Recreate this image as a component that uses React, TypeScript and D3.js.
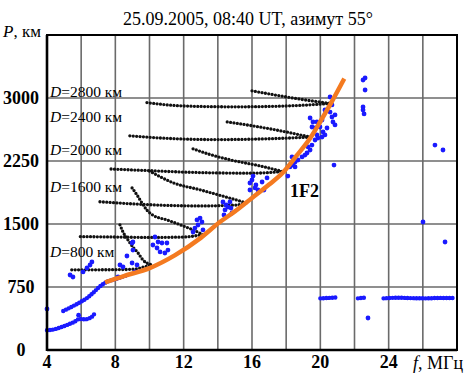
import * as d3 from "d3";

const FONT = "Liberation Serif";

// axis ticks
const xTickLabels = [4, 8, 12, 16, 20, 24];
const yTickLabels = [0, 750, 1500, 2250, 3000];

// orange 1F2 MUF curve (f MHz, P km)
const muf = [
  [7.4, 805], [8.5, 880], [10.0, 975], [11.5, 1130], [13.0, 1335], [14.1, 1520],
  [15.0, 1650], [16.0, 1810], [17.0, 1970], [17.8, 2110], [18.6, 2310],
  [19.4, 2520], [20.0, 2720], [20.6, 2930], [21.4, 3230],
];

// modelled distance-frequency curves, lower and upper branches per D
const dLabels = [
  { text: "2800", P: 3012 },
  { text: "2400", P: 2714 },
  { text: "2000", P: 2321 },
  { text: "1600", P: 1881 },
  { text: "800", P: 1107 },
];
const lower800 = [[5.45, 955], [7, 955], [8.5, 958], [9.2, 965], [9.7, 990], [10.1, 1015]];
const upper800 = [[8.27, 1490], [8.45, 1405], [8.74, 1310], [9.03, 1226], [9.33, 1155], [9.62, 1071], [10.1, 1015]];
const lower1200 = [[5.95, 1350], [8, 1345], [10, 1340], [12, 1345], [13.13, 1375]];
const upper1200 = [[8.98, 1930], [9.27, 1845], [9.56, 1750], [9.85, 1665], [10.2, 1605], [11.0, 1550], [11.8, 1490], [12.55, 1430], [13.13, 1375]];
const lower1600 = [[7.1, 1765], [9, 1740], [11, 1722], [13, 1715], [15, 1725], [15.7, 1750]];
const upper1600 = [[10.0, 2130], [11.4, 1990], [13.0, 1905], [14.5, 1820], [15.7, 1750]];
const lower2000 = [[7.75, 2155], [10, 2135], [13, 2112], [16, 2105], [17.8, 2125]];
const upper2000 = [[12.55, 2395], [13.5, 2330], [14.7, 2265], [16.5, 2190], [17.8, 2125]];
const lower2400 = [[8.85, 2550], [11, 2520], [14, 2505], [17, 2515], [19.4, 2535]];
const upper2400 = [[14.55, 2715], [16, 2670], [17.4, 2620], [19.4, 2535]];
const lower2800 = [[9.85, 2945], [12, 2905], [15, 2895], [18, 2905], [20.6, 2935]];
const upper2800 = [[16.0, 3085], [17.35, 3036], [18.7, 2990], [20.6, 2935]];
const modelLines = [lower800, upper800, lower1200, upper1200, lower1600, upper1600,
  lower2000, upper2000, lower2400, upper2400, lower2800, upper2800];

// measured traces (continuous)
const traceLow = [[4.0, 235], [4.4, 245], [4.8, 270], [5.2, 300], [5.6, 335], [5.9, 370], [6.2, 365], [6.5, 380], [6.7, 410], [6.85, 455]];
const traceMid = [[4.95, 465], [5.45, 515], [5.95, 570], [6.35, 620], [6.7, 680], [7.0, 740], [7.4, 800], [8.1, 850], [8.7, 890]];
const trace620a = [[20.0, 615], [20.5, 620], [20.9, 625]];
const trace620b = [[22.2, 615], [22.45, 620], [22.7, 625]];
const trace620c = [[23.7, 615], [24.5, 622], [25.3, 618], [26.2, 615], [27.0, 620], [27.9, 618]];
const traces = [traceLow, traceMid, trace620a, trace620b, trace620c];

// measured points (scattered)
const scatter = [
  [4.0, 488], [5.85, 415],
  [5.35, 893], [5.52, 869], [6.11, 929], [6.34, 976], [6.52, 1012], [6.63, 1048],
  [8.27, 1012], [8.45, 988], [8.98, 1036], [9.03, 1190], [8.98, 1274], [9.03, 1286],
  [9.27, 1012], [9.15, 929], [8.68, 1119], [8.16, 869],
  [10.32, 1345], [10.5, 1286], [10.73, 1274], [11.02, 1274], [10.62, 1167], [11.08, 1190],
  [10.9, 1155], [10.2, 1250], [10.44, 1214],
  [12.78, 1548], [12.96, 1571], [13.07, 1524], [12.84, 1488], [12.55, 1405], [13.13, 1429], [12.66, 1452],
  [14.3, 1762], [14.48, 1726], [14.71, 1762], [14.42, 1667], [14.6, 1702], [14.83, 1631], [14.36, 1607], [14.77, 1690],
  [15.88, 1988], [16.0, 2024], [16.23, 1964], [16.59, 2000], [16.35, 1905], [15.88, 1905],
  [16.88, 2048], [16.06, 2071], [16.18, 1929], [16.7, 1905],
  [20.57, 3012], [20.68, 2917], [20.27, 2857], [20.57, 2833], [20.68, 2774], [20.86, 2798],
  [20.74, 2714], [20.86, 2679], [19.4, 2762], [19.57, 2714], [19.8, 2714], [19.51, 2655],
  [19.69, 2643], [19.98, 2655], [20.1, 2738], [20.16, 2595], [20.27, 2560], [20.1, 2536],
  [20.39, 2643], [19.8, 2560], [19.86, 2524], [19.69, 2500], [19.51, 2440], [19.28, 2417],
  [19.4, 2381], [19.22, 2345], [19.1, 2321], [18.93, 2298], [18.69, 2262], [18.52, 2238],
  [18.34, 2298], [18.4, 2202], [18.22, 2179], [18.52, 2179], [20.8, 2202], [18.1, 2071],
  [22.5, 3214], [22.62, 3238], [22.62, 3095], [22.5, 2893], [22.5, 2857], [22.56, 2810],
  [26.71, 2440], [27.18, 2381], [26.01, 1524], [27.3, 1286], [22.79, 381],
];

export default function App() {
  const width = 472;
  const height = 374;
  const x = d3.scaleLinear().domain([4, 28]).range([47, 457]);
  const y = d3.scaleLinear().domain([0, 3750]).range([350, 35]);
  const line = d3
    .line<number[]>()
    .x((d) => x(d[0]))
    .y((d) => y(d[1]))
    .curve(d3.curveMonotoneX);

  const gridX = x.ticks(12).filter((v) => v > 4 && v < 28);
  const gridY = yTickLabels.filter((v) => v > 0);

  return (
    <svg
      width={width}
      height={height}
      style={{ position: "absolute", left: 0, top: 0, background: "#fff" }}
    >
      {/* grid */}
      {gridX.map((v) => (
        <line key={"gx" + v} x1={x(v)} x2={x(v)} y1={y(3750)} y2={y(0)} stroke="#6a6a6a" strokeWidth={1.6} />
      ))}
      {gridY.map((v) => (
        <line key={"gy" + v} x1={x(4)} x2={x(28)} y1={y(v)} y2={y(v)} stroke="#6a6a6a" strokeWidth={1.6} />
      ))}

      {/* modelled curves as dotted lines */}
      {modelLines.map((pts, i) => (
        <path
          key={"m" + i}
          d={line(pts) || ""}
          fill="none"
          stroke="#111"
          strokeWidth={3.3}
          strokeLinecap="round"
          strokeDasharray="0 3.4"
        />
      ))}

      {/* measured */}
      {traces.map((pts, i) => (
        <path
          key={"t" + i}
          d={line(pts) || ""}
          fill="none"
          stroke="#1a1aff"
          strokeWidth={4.4}
          strokeLinecap="round"
          strokeDasharray="0 3"
        />
      ))}
      {scatter.map((d, i) => (
        <circle key={"s" + i} cx={x(d[0])} cy={y(d[1])} r={2.4} fill="#1a1aff" />
      ))}

      {/* 1F2 curve */}
      <path d={line(muf) || ""} fill="none" stroke="#f47a20" strokeWidth={4.5} />

      {/* frame */}
      <rect x={x(4)} y={y(3750)} width={x(28) - x(4)} height={y(0) - y(3750)} fill="none" stroke="#000" strokeWidth={2} />
      <line x1={x(4)} x2={x(4)} y1={y(3750)} y2={y(0) + 1} stroke="#000" strokeWidth={2.6} />
      <line x1={x(4)} x2={x(28)} y1={y(0)} y2={y(0)} stroke="#000" strokeWidth={2.6} />

      {/* D labels */}
      {dLabels.map((d) => (
        <text key={"d" + d.text} x={50} y={y(d.P)} fontFamily={FONT} fontSize={15.5}>
          <tspan fontStyle="italic">D</tspan>={d.text} км
        </text>
      ))}

      <text x={290} y={197} fontFamily={FONT} fontSize={18} fontWeight="bold">1F2</text>

      {/* axis labels */}
      {yTickLabels.map((v) => (
        <text key={"yl" + v} x={21} y={y(v) + 5.5} fontFamily={FONT} fontSize={18} fontWeight="bold" textAnchor="middle">
          {v}
        </text>
      ))}
      {xTickLabels.map((v) => (
        <text key={"xl" + v} x={x(v)} y={368} fontFamily={FONT} fontSize={18} fontWeight="bold" textAnchor="middle">
          {v}
        </text>
      ))}
      <text x={413} y={369} fontFamily={FONT} fontSize={18}>
        <tspan fontStyle="italic">f</tspan>, МГц
      </text>
      <text x={3} y={37} fontFamily={FONT} fontSize={17}>
        <tspan fontStyle="italic">P</tspan>, км
      </text>

      <text x={248} y={25} fontFamily={FONT} fontSize={18} textAnchor="middle">
        25.09.2005, 08:40 UT, азимут 55°
      </text>
    </svg>
  );
}
